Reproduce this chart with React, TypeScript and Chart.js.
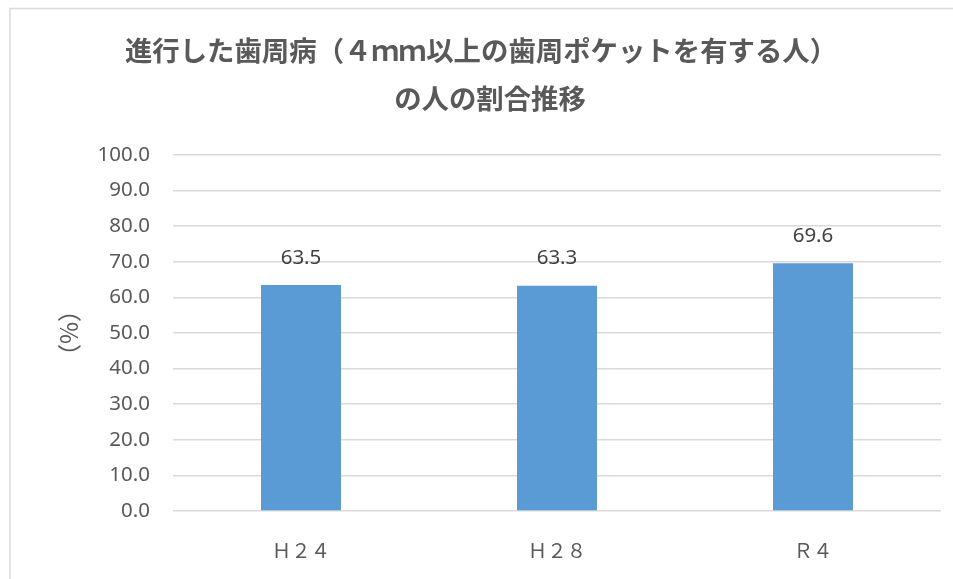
import React, { useEffect, useRef } from "react";
import { Chart, registerables } from "chart.js";

Chart.register(...registerables);

const titleLines = ["進行した歯周病（４ｍｍ以上の歯周ポケットを有する人）", "の人の割合推移"];
const categories = ["Ｈ２４", "Ｈ２８", "Ｒ４"];
const values = [63.5, 63.3, 69.6];
const yAxisTitle = "（%）";
const yMin = 0;
const yMax = 100;
const yStep = 10;

const W = 953;
const H = 579;

const frameAndTitle = {
  id: "frameAndTitle",
  beforeDraw(chart: any) {
    const ctx = chart.ctx;
    ctx.save();
    ctx.fillStyle = "#ffffff";
    ctx.fillRect(0, 0, W, H);
    ctx.strokeStyle = "#d9d9d9";
    ctx.lineWidth = 1.5;
    ctx.strokeRect(10, 8.5, W + 20, H + 20);
    ctx.fillStyle = "#595959";
    ctx.font = 'bold 27.4px "Noto Sans CJK JP", sans-serif';
    ctx.textAlign = "center";
    ctx.textBaseline = "middle";
    ctx.fillText(titleLines[0], 481, 51);
    ctx.fillText(titleLines[1], 490, 99);
    ctx.restore();
  },
};

const dataLabels = {
  id: "dataLabels",
  afterDatasetsDraw(chart: any) {
    const ctx = chart.ctx;
    const meta = chart.getDatasetMeta(0);
    ctx.save();
    ctx.fillStyle = "#404040";
    ctx.font = '20.5px "Noto Sans", "Noto Sans CJK JP", sans-serif';
    ctx.textAlign = "center";
    ctx.textBaseline = "middle";
    meta.data.forEach((bar: any, i: number) => {
      ctx.fillText(values[i].toFixed(1), bar.x, bar.y - 27);
    });
    ctx.restore();
  },
};

export default function App() {
  const ref = useRef<HTMLCanvasElement>(null);
  useEffect(() => {
    document.body.style.margin = "0";
    const chart = new Chart(ref.current!, {
      type: "bar",
      data: {
        labels: categories,
        datasets: [
          {
            data: values,
            backgroundColor: "#5B9BD5",
            barPercentage: 0.3125,
            categoryPercentage: 1,
          },
        ],
      },
      options: {
        animation: false,
        responsive: false,
        devicePixelRatio: 1,
        layout: { padding: { top: 155, right: 12, bottom: 0, left: 0 } },
        plugins: {
          legend: { display: false },
          title: { display: false },
          tooltip: { enabled: false },
        },
        scales: {
          x: {
            grid: { display: false, drawTicks: false },
            border: { display: false },
            ticks: {
              color: "#595959",
              padding: 28,
              font: { family: '"Noto Sans CJK JP", sans-serif', size: 19.5 },
            },
            afterFit(scale: any) {
              scale.height = 68;
            },
          },
          y: {
            min: yMin,
            max: yMax,
            grid: { color: "#d9d9d9", lineWidth: 1.5, drawTicks: false },
            border: { display: false },
            ticks: {
              stepSize: yStep,
              color: "#595959",
              padding: 23,
              font: { family: '"Noto Sans", sans-serif', size: 20.5 },
              callback: (v: any) => Number(v).toFixed(1),
            },
            title: {
              display: true,
              text: yAxisTitle,
              color: "#595959",
              align: "center",
              padding: { top: 54, bottom: 0 },
              font: { family: '"Noto Sans CJK JP", sans-serif', size: 24 },
            },
            afterFit(scale: any) {
              scale.width = 173;
            },
          },
        },
      },
      plugins: [frameAndTitle, dataLabels],
    });
    return () => chart.destroy();
  }, []);
  return <canvas ref={ref} width={W} height={H} style={{ display: "block", width: W, height: H }} />;
}
